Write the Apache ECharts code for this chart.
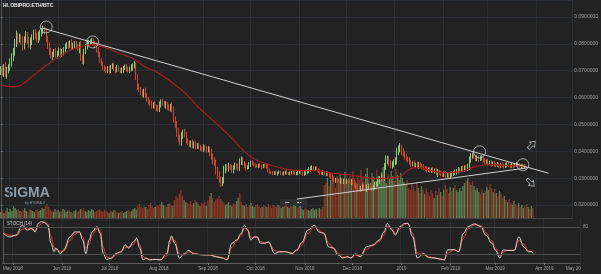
<!DOCTYPE html>
<html><head><meta charset="utf-8">
<script src="https://cdn.jsdelivr.net/npm/echarts@6/dist/echarts.min.js"></script>
<style>html,body{margin:0;padding:0;background:#222;}#c{width:601px;height:274px;}</style>
</head><body><div id="c"></div>
<script>
// ---- DATA (prices in units of 0.0001 BTC, one value per day from 2018-04-25) ----
const START_DATE = [2018, 3, 25];
const AXIS_DAYS = 364;
const PRICE_UNIT = 1e-4;
const firstOpen = 698;
const closes = [
705,692,715,688,700,712,730,745,770,
800,828,815,822,
810,790,818,832,812,795,808,825,840,830,815,828,838,
850,852,845,
820,795,770,755,762,
770,758,765,775,760,768,780,790,
798,792,803,788,796,800,790,785,795,
750,735,
770,790,
800,805,808,810,802,795,780,
760,740,725,712,
705,700,710,698,715,720,708,700,712,705,698,702,710,716,705,700,708,712,
718,722,
680,640,630,
620,612,625,608,
592,585,578,570,575,565,560,556,
575,585,
578,570,575,565,560,568,555,
520,498,
470,450,432,
455,470,462,
440,430,425,432,420,428,418,422,415,
412,408,415,410,405,408,
395,380,365,358,
330,310,295,285,290,
330,342,
335,345,338,330,340,348,342,335,
360,372,
355,345,338,342,
352,358,355,350,
346,344,348,345,342,347,345,343,
330,322,
320,318,322,316,319,321,317,315,320,323,318,316,319,322,320,317,318,321,324,319,316,318,322,326,
332,336,338,334,337,333,
325,320,318,322,316,319,314,312,
305,298,292,295,
290,288,292,286,289,284,291,287,285,288,283,
275,268,260,258,263,270,266,261,268,272,265,262,268,274,278,
290,298,303,300,
340,365,372,
355,345,352,358,362,
395,408,415,
400,390,380,372,368,
360,352,355,348,350,345,352,346,342,
338,335,330,334,328,332,326,330,
318,325,322,
315,312,318,310,314,308,312,316,318,
322,325,330,328,335,332,338,335,340,
365,382,385,
378,372,375,370,374,376,
365,360,362,355,358,352,356,350,
348,352,345,350,346,343,348,352,347,344,349,
345,350,353,348,344,347,342,345,344
];
const upperWick = [
12,15,10,18,14,12,16,20,15,18,22,12,16,14,18,10,15,12,14,16,11,13,15,12,18,14,10,16,12,14,
10,12,15,8,11,14,9,12,10,13,8,11,9,12,10,14,8,10,12,9,11,15,10,12,9,13,10,8,12,10,
9,11,8,10,7,9,8,10,7,9,6,8,10,7,9,8,6,10,8,7,9,11,8,12,10,14,9,8,12,10,
10,8,12,9,11,7,10,8,12,9,13,10,8,11,9,12,8,10,9,14,12,10,15,18,12,16,10,14,11,9,
10,8,12,9,11,8,10,9,7,11,8,10,12,9,14,11,13,10,12,15,11,14,16,10,9,12,8,11,9,10,
8,12,14,9,7,8,10,6,8,7,9,6,5,7,6,8,5,6,7,9,8,6,5,7,4,6,5,7,6,5,
6,5,7,4,6,5,7,6,5,8,6,7,9,8,10,7,9,8,10,7,6,8,5,7,6,8,5,7,6,8,
8,7,9,6,8,7,10,6,8,9,7,8,6,9,8,10,12,9,11,8,10,7,12,9,8,11,10,8,12,9,
12,10,14,9,16,20,12,10,14,11,12,15,18,14,16,10,12,9,11,8,10,9,7,11,8,10,9,7,8,10,
7,9,6,8,7,10,6,8,9,7,6,8,7,9,6,8,7,9,8,10,9,11,8,10,12,9,11,14,16,12,
10,12,9,11,8,10,9,7,10,8,9,7,8,6,9,7,8,6,7,9,6,8,7,9,6,7,8,6,7,5,8,6,7,6,5
];
const lowerWick = [
14,10,16,12,18,10,12,15,10,14,12,16,10,13,15,11,14,12,10,16,13,11,14,10,12,15,11,13,10,12,
14,12,10,16,11,9,13,10,12,8,11,10,9,12,8,11,10,13,9,12,20,14,10,12,8,11,9,10,8,11,
10,12,9,11,8,10,7,9,8,11,7,9,8,10,6,9,7,8,10,7,9,6,8,10,12,9,14,12,10,11,
9,12,10,8,11,9,12,10,8,11,9,10,12,9,8,11,10,9,12,10,14,12,16,14,10,12,9,11,10,8,
9,11,8,10,12,9,8,10,9,11,8,10,9,13,11,14,12,16,14,12,18,15,10,12,9,11,8,10,12,9,
10,8,9,11,8,7,9,6,8,10,7,6,8,5,7,6,8,5,6,7,8,6,5,7,6,5,7,4,6,5,
5,7,6,4,6,5,7,5,6,7,5,6,8,7,6,8,7,9,6,8,5,7,6,8,5,7,6,8,7,9,
8,10,7,9,8,6,9,7,8,10,7,9,8,11,9,10,8,12,10,9,11,8,10,12,9,8,11,9,10,8,
9,11,8,12,10,9,13,11,8,10,12,9,11,10,12,14,9,11,8,10,9,11,8,10,9,7,10,8,9,7,
8,10,7,9,8,6,9,7,14,10,8,9,7,10,8,6,9,7,8,6,9,7,8,6,9,8,7,9,10,8,
9,7,10,8,9,6,8,7,9,6,8,7,9,6,7,8,6,7,8,6,7,5,8,6,7,6,8,5,7,6,5,7,6,5,6
];
const volumes = [
6,8,5,7,10,6,9,7,12,10,8,9,7,6,8,10,7,6,9,8,7,6,8,9,7,8,10,9,12,14,11,
8,7,6,9,7,8,6,7,9,8,6,7,8,6,5,7,8,6,7,9,8,10,7,6,8,7,9,8,6,7,
8,9,7,6,8,7,6,5,7,6,8,7,6,5,6,7,5,6,7,8,6,7,9,10,8,12,14,11,
10,12,11,9,13,15,12,10,11,13,12,14,16,13,12,11,14,15,13,12,18,22,20,24,28,22,18,16,15,14,17,13,15,18,16,14,12,15,
14,16,12,18,22,25,20,16,18,20,22,19,17,15,13,14,16,13,12,15,14,17,20,25,16,
13,12,14,11,13,15,12,11,13,14,12,10,11,13,12,11,14,12,10,13,12,11,13,12,10,11,12,14,11,10,12,11,13,12,10,11,12,
9,8,10,9,8,7,9,10,8,9,8,10,9,11,33,
35,40,32,38,45,36,30,42,38,44,35,40,46,33,38,42,36,47,40,35,43,38,48,41,36,44,50,39,34,45,41,37,48,42,38,46,51,40,35,44,39,47,42,37,49,43,38,45,
40,36,33,38,30,28,34,31,27,35,30,25,32,28,24,30,26,22,28,25,20,27,23,30,26,22,28,33,29,25,31,27,30,33,28,26,
30,27,32,35,38,40,36,33,37,32,28,30,26,24,29,25,27,31,28,34,30,26,29,25,22,27,
24,20,22,18,16,19,15,13,17,14,12,15,11,13,10,12,14,11,9,12,10
];
const maDay   = [0,8,13,21,31,42,50,58,67,75,83,92,100,109,117,126,138,146,159,171,184,193,201,209,220,230,240,251,264,272,281,293,301,314,325,334];
const maValue = [647,640,647,684,729,770,788,796,785,766,748,714,692,655,618,562,499,454,380,350,331,328,328,320,313,305,298,302,339,331,320,324,342,350,346,346];
const stochDay = [0,4,8,12,15,18,20,22,24,26,28,30,32,33,36,38,42,45,48,50,52,54,56,59,61,63,65,68,71,74,77,79,82,84,86,88,90,92,96,99,103,105,106,108,111,114,117,120,126,130,134,138,141,144,147,150,152,154,156,158,160,162,165,167,171,174,178,182,185,188,192,196,199,202,205,208,211,214,217,219,222,225,229,233,237,240,242,245,247,250,253,255,258,261,265,268,272,276,278,280,284,287,290,293,297,301,304,308,310,313,315,318,322,325,328,331,333,334];
const stochK = [66,58,62,84,73,77,69,88,92,90,84,44,25,33,21,29,58,69,69,51,21,51,69,81,66,21,8,11,21,25,40,33,47,55,33,7,11,7,8,7,21,51,60,44,11,21,28,20,18,18,14,11,7,44,51,66,84,73,51,58,58,44,44,47,21,25,25,21,29,45,73,84,69,66,36,33,18,11,14,11,20,14,36,40,51,69,88,73,62,81,88,88,58,11,21,12,11,8,7,29,30,25,66,81,87,81,62,44,29,11,29,28,28,58,36,25,25,21];
const stochD = [68,62,60,75,78,75,72,80,88,91,87,60,35,32,25,26,50,64,69,58,32,42,62,76,72,35,14,10,18,24,35,36,42,52,40,14,10,8,8,7,16,42,54,50,20,18,25,22,18,18,15,12,8,35,49,62,78,76,58,56,58,48,44,46,28,24,25,22,27,40,66,80,73,67,44,34,22,13,13,12,17,15,30,39,48,63,82,77,65,76,86,88,66,22,18,14,11,9,7,22,29,26,55,76,85,83,68,49,34,16,24,28,28,50,42,28,25,22];
const monthTickDates  = ['2018-05-01','2018-06-01','2018-07-01','2018-08-01','2018-09-01','2018-10-01','2018-11-01','2018-12-01','2019-01-01','2019-02-01','2019-03-01','2019-04-01'];
const monthTickLabels = ['May 2018','Jun 2018','Jul 2018','Aug 2018','Sep 2018','Oct 2018','Nov 2018','Dec 2018','2019','Feb 2019','Mar 2019','Apr 2019'];
const upperTrendDay = [26.4, 348.4], upperTrendValue = [859, 318];
const lowerTrendDay = [188.3, 334.6], lowerTrendValue = [222, 338];
const pivotDay = [28.9, 58.4, 304.5, 332], pivotValue = [863, 807, 398, 350];
const arrowDay = [337.7, 337], arrowValue = [424, 283], arrowAngle = [-45, -135];
const stochLevels = [80, 20];

// ---- BUILD ----
const U = PRICE_UNIT;
const dates = Array.from({length: AXIS_DAYS}, (_, i) =>
  new Date(Date.UTC(START_DATE[0], START_DATE[1], START_DATE[2] + i)).toISOString().slice(0, 10));
const candles = [], volData = [];
closes.forEach((c, i) => {
  const o = i ? closes[i - 1] : firstOpen;
  const hi = Math.max(o, c) + upperWick[i];
  const lo = Math.min(o, c) - lowerWick[i];
  candles.push([o * U, c * U, lo * U, hi * U]);
  volData.push({value: volumes[i], itemStyle: {color: c >= o ? 'rgba(112,156,92,0.78)' : 'rgba(168,62,36,0.78)'}});
});
const tickSet = new Set(monthTickDates);
const labelOf = {}; monthTickDates.forEach((d, k) => labelOf[d] = monthTickLabels[k]);
const isTick = (idx, val) => tickSet.has(val);
const GRID = '#2a2f35';
const FONT = 'Liberation Sans, Arial, sans-serif';
const lastClose = closes[closes.length - 1];
const lastK = stochK[stochK.length - 1];

const chart = echarts.init(document.getElementById('c'), null, {renderer: 'canvas'});
chart.setOption({
  backgroundColor: '#222222',
  animation: false,
  textStyle: {fontFamily: FONT},
  grid: [
    {left: 0, right: 21, top: 0, height: 218},
    {left: 0, right: 21, top: 118, height: 100},
    {left: 0, right: 21, top: 218, height: 45}
  ],
  xAxis: [
    {type: 'category', gridIndex: 0, data: dates, boundaryGap: true,
      axisLabel: {show: false}, axisTick: {show: false},
      axisLine: {show: true, lineStyle: {color: '#444'}},
      splitLine: {show: true, interval: isTick, lineStyle: {color: GRID}}},
    {type: 'value', gridIndex: 0, min: -0.5, max: AXIS_DAYS - 0.5, show: false},
    {type: 'category', gridIndex: 1, data: dates, show: false},
    {type: 'category', gridIndex: 2, data: dates, boundaryGap: true,
      axisLine: {show: true, lineStyle: {color: '#5a5a5a'}},
      axisTick: {show: true, interval: isTick, alignWithLabel: true, length: 2, lineStyle: {color: '#777'}},
      axisLabel: {interval: isTick, formatter: v => labelOf[v] || '', color: '#a0a0a0', fontSize: 4.5, margin: 3},
      splitLine: {show: true, interval: isTick, lineStyle: {color: GRID}}},
    {type: 'value', gridIndex: 2, min: -0.5, max: AXIS_DAYS - 0.5, show: false}
  ],
  yAxis: [
    {type: 'value', gridIndex: 0, position: 'right', min: 0.01516, max: 0.09633, splitNumber: 8,
      axisLine: {show: true, lineStyle: {color: '#5a5a5a'}},
      axisTick: {show: true, length: 2, lineStyle: {color: '#777'}},
      axisLabel: {color: '#a0a0a0', fontSize: 5, margin: 2, showMinLabel: false, showMaxLabel: false,
        formatter: v => v.toFixed(7)},
      splitLine: {show: true, lineStyle: {color: GRID}}},
    {type: 'value', gridIndex: 1, min: 0, max: 100, show: false},
    {type: 'value', gridIndex: 2, position: 'right', min: 0, max: 100, interval: 20,
      axisLine: {show: true, lineStyle: {color: '#5a5a5a'}},
      axisTick: {show: false},
      axisLabel: {color: '#a0a0a0', fontSize: 4.5, margin: 3, formatter: v => v === 80 ? '80' : ''},
      splitLine: {show: false}}
  ],
  series: [
    {type: 'bar', xAxisIndex: 2, yAxisIndex: 1, data: volData, barCategoryGap: '18%', z: 1, silent: true},
    {type: 'candlestick', xAxisIndex: 0, yAxisIndex: 0, data: candles, barWidth: 1, z: 3,
      itemStyle: {color: '#86c77a', color0: '#d2452a', borderColor: '#86c77a', borderColor0: '#d2452a', borderWidth: 1},
      markLine: {silent: true, symbol: 'none', lineStyle: {opacity: 0},
        data: [{yAxis: lastClose * U}],
        label: {show: true, position: 'end', distance: 0, formatter: p => p.value.toFixed(7),
          backgroundColor: '#8bc34a', borderColor: '#c62828', borderWidth: 1, color: '#1b1b1b',
          fontSize: 5, padding: [1, 2]}}},
    {type: 'line', xAxisIndex: 1, yAxisIndex: 0, data: maDay.map((d, k) => [d, maValue[k] * U]),
      smooth: 0.5, showSymbol: false, lineStyle: {color: '#a61e1e', width: 1.2}, z: 4, silent: true},
    {type: 'line', xAxisIndex: 1, yAxisIndex: 0, data: upperTrendDay.map((d, k) => [d, upperTrendValue[k] * U]),
      showSymbol: false, lineStyle: {color: '#cfcfcf', width: 1}, z: 5, silent: true},
    {type: 'line', xAxisIndex: 1, yAxisIndex: 0, data: lowerTrendDay.map((d, k) => [d, lowerTrendValue[k] * U]),
      showSymbol: false, lineStyle: {color: '#cfcfcf', width: 1}, z: 5, silent: true},
    {type: 'scatter', xAxisIndex: 1, yAxisIndex: 0, data: pivotDay.map((d, k) => [d, pivotValue[k] * U]),
      symbol: 'circle', symbolSize: 12, itemStyle: {color: 'rgba(0,0,0,0)', borderColor: '#c8c8c8', borderWidth: 1}, z: 6, silent: true},
    {type: 'scatter', xAxisIndex: 1, yAxisIndex: 0,
      data: arrowDay.map((d, k) => ({value: [d, arrowValue[k] * U], symbolRotate: arrowAngle[k]})),
      symbol: 'path://M5,0 L10,5 L7,5 L7,11 L3,11 L3,5 L0,5 Z', symbolSize: [7, 10],
      itemStyle: {color: 'rgba(0,0,0,0)', borderColor: '#d0d0d0', borderWidth: 0.8}, z: 6, silent: true},
    {type: 'line', xAxisIndex: 4, yAxisIndex: 2, data: stochDay.map((d, k) => [d, stochD[k]]),
      smooth: 0.4, smoothMonotone: 'x', showSymbol: false, lineStyle: {color: '#e53935', width: 1}, z: 3, silent: true,
      markLine: {silent: true, symbol: 'none', lineStyle: {opacity: 0}, data: [{yAxis: lastK}],
        label: {show: true, position: 'end', distance: 0, formatter: String(lastK),
          backgroundColor: '#ff1a1a', color: '#3a0000', fontSize: 4.5, padding: [1, 3], borderRadius: 1}}},
    {type: 'line', xAxisIndex: 4, yAxisIndex: 2, data: stochDay.map((d, k) => [d, stochK[k]]),
      smooth: 0.4, smoothMonotone: 'x', showSymbol: false, lineStyle: {color: '#e6e6e6', width: 0.9}, z: 4, silent: true,
      markLine: {silent: true, symbol: 'none', label: {show: false}, lineStyle: {color: '#4e4e4e', type: 'solid', width: 1},
        data: stochLevels.map(v => ({yAxis: v}))}}
  ],
  graphic: [
    {type: 'text', left: 3, top: 3, style: {text: 'HUOBIPRO:ETH/BTC', fill: '#e8e8e8', font: 'bold 5px ' + FONT}},
    {type: 'text', left: 4, top: 186, style: {text: 'SIGMA', fill: '#8c9dab', font: 'bold 14px ' + FONT}},
    {type: 'text', left: 25, top: 201, style: {text: 'by HYDRA X', fill: '#8c9dab', font: '3.5px ' + FONT}},
    {type: 'rect', left: 280, top: 199, shape: {width: 27, height: 9}, style: {fill: '#2e2e2e'}},
    {type: 'text', left: 285, top: 199, style: {text: '\u2212', fill: '#d0d0d0', font: 'bold 8px ' + FONT}},
    {type: 'text', left: 297, top: 198.5, style: {text: '+', fill: '#d0d0d0', font: 'bold 8px ' + FONT}},
    {type: 'text', left: 7, top: 221.5, style: {text: 'STOCH (14)', fill: '#cfcfcf', font: '4.5px ' + FONT}},
    {type: 'text', left: 566, top: 266, style: {text: 'May 20', fill: '#a0a0a0', font: '4.5px ' + FONT}}
  ]
});
</script></body></html>
